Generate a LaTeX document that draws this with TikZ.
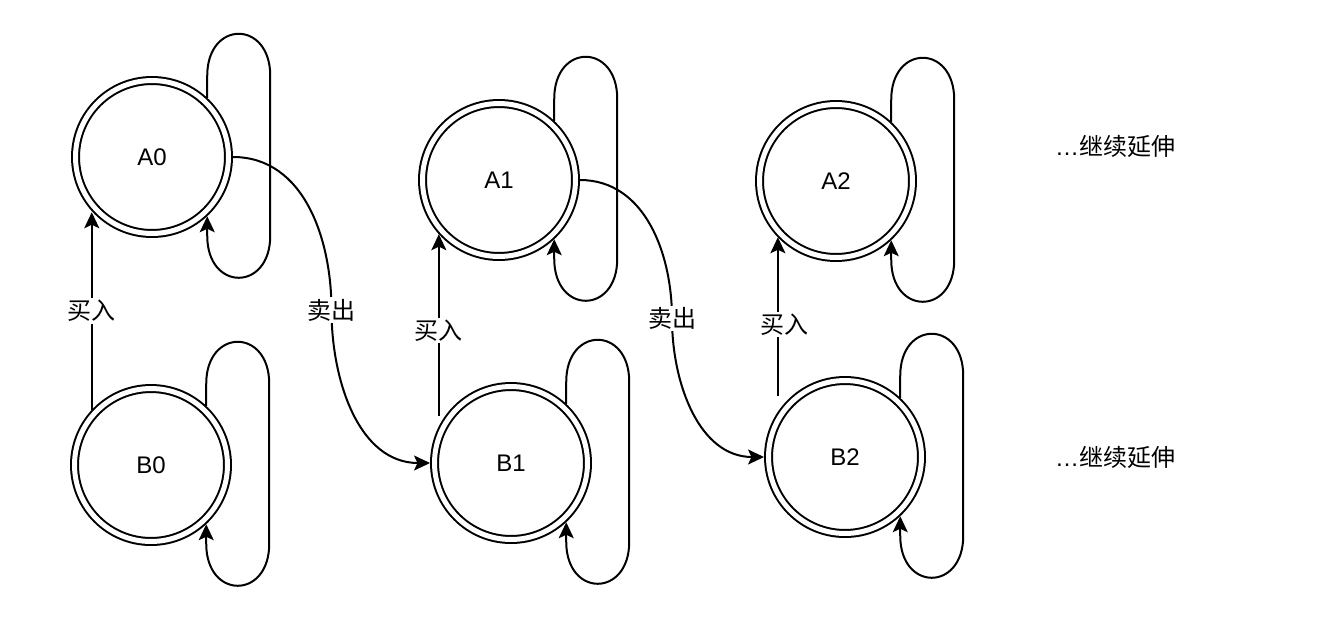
\documentclass[tikz,border=0pt]{standalone}
\usepackage{fontspec}
\setmainfont{Liberation Sans}
\newfontfamily\cjk{Noto Sans CJK SC}
\usetikzlibrary{arrows.meta,calc}
\begin{document}
\begin{tikzpicture}[x=0.02cm,y=-0.02cm,line width=0.04cm,
  st/.style={circle,draw,double,double distance=0.1cm,line width=0.04cm,
    minimum size=3.06cm,inner sep=0pt,outer sep=0.09cm},
  lbl/.style={fill=white,inner sep=1pt,font=\cjk},
  >={Stealth[length=0.32cm,width=0.3cm,inset=0.07cm]}]
  \fontsize{13.66pt}{16pt}\selectfont
  \useasboundingbox (0,0) rectangle (1324,616);
  \node[st] (A0) at (152,157) {A0};
  \node[st] (B0) at (151,465) {B0};
  \node[st] (A1) at (499,180) {A1};
  \node[st] (B1) at (511,463) {B1};
  \node[st] (A2) at (836,181) {A2};
  \node[st] (B2) at (845,457) {B2};
  \node (ma) at (1115,146) {…{\cjk 继续延伸}};
  \node (mb) at (1115,457) {…{\cjk 继续延伸}};
  \foreach \n in {A0,B0,A1,B1,A2,B2}
    \draw[->] (\n.47) -- ++(0,-22) .. controls +(0,-56) and +(0,-56) .. ++(63,0)
      -- ++(0,160) .. controls +(0,56) and +(0,56) .. ++(-63,0) -- (\n.-47);
  \draw[->] (B0.137) -- (B0.137 |- A0.-137) node[midway,lbl] {买入};
  \draw[->,shorten <=0.2cm] (B1.153) -- (B1.153 |- A1.-138) node[midway,lbl] {买入};
  \draw[->,shorten <=0.32cm] (B2.146) -- (B2.146 |- A2.-136) node[midway,lbl,xshift=0.14cm] {买入};
  \draw[->] (A0.east) to[out=0,in=90] ($(A0.east)!.5!(B1.west)$) node[lbl] {卖出}
    to[out=-90,in=180] (B1.west);
  \draw[->] (A1.east) to[out=0,in=90] ($(A1.east)!.5!(B2.west)$) node[lbl] {卖出}
    to[out=-90,in=180] (B2.west);
\end{tikzpicture}
\end{document}
